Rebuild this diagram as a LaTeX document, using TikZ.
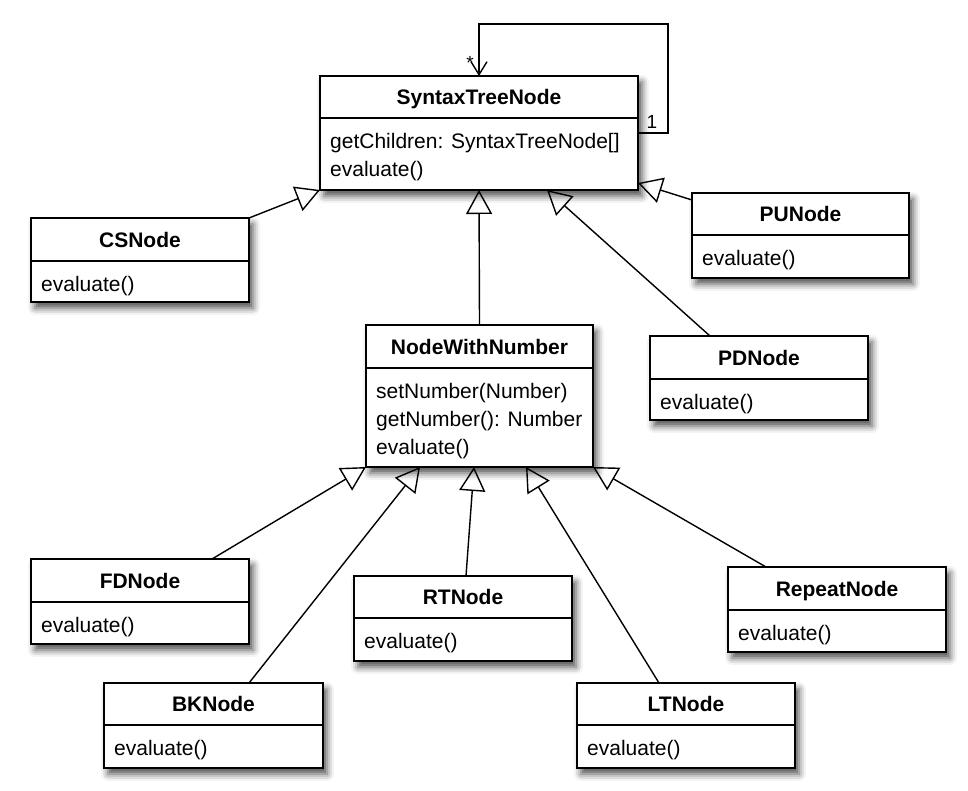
\documentclass[tikz,border=0pt]{standalone}
\usepackage{fontspec}
\setmainfont{Liberation Sans}
\usetikzlibrary{arrows.meta,calc,shadows.blur}

\tikzset{
  classbox/.style={draw, line width=1.8pt, fill=white, inner sep=0pt, outer sep=0pt,
    blur shadow={shadow xshift=4pt, shadow yshift=-6pt, shadow blur radius=7pt, shadow opacity=70}},
  classname/.style={font=\fontsize{21}{25}\selectfont\bfseries, inner sep=0pt, anchor=base},
  classops/.style={font=\fontsize{21}{28}\selectfont, align=left, inner sep=0pt, anchor=north west},
  inherit/.style={line width=1.4pt, -{Triangle[open, length=24pt, width=26pt, line width=1.4pt]}},
  assoc/.style={line width=1.4pt, -{Straight Barb[length=13pt, width=16pt, line width=1.4pt]}},
  mult/.style={font=\fontsize{19}{20}\selectfont, inner sep=0pt},
}

% name, x, y, width, height, title height, title, operations
\newcommand{\umlclass}[8]{%
  \node[classbox, minimum width=#4pt, minimum height=#5pt, anchor=north west] (#1) at (#2,#3) {};
  \draw[line width=1.3pt] ($(#1.north west)+(0,#6)$) -- ($(#1.north east)+(0,#6)$);
  \node[classname] (#1-name) at ($(#1.north)+(0,#6/2+7.5)$) {#7};
  \node[classops] (#1-ops) at ($(#1.north west)+(10,#6+15)$) {#8};
}

\begin{document}
\begin{tikzpicture}[x=1pt, y=-1pt]
  \useasboundingbox (0,0) rectangle (968,790);

  \umlclass{STN}{320}{76}{318}{114}{42}{SyntaxTreeNode}{getChildren: SyntaxTreeNode[]\\evaluate()}
  \umlclass{CS}{31}{218}{218}{84}{43}{CSNode}{evaluate()}
  \umlclass{PU}{692}{193}{217}{85}{42}{PUNode}{evaluate()}
  \umlclass{PD}{650}{336}{218}{84}{43}{PDNode}{evaluate()}
  \umlclass{NWN}{366}{325}{227}{142}{43}{NodeWithNumber}{setNumber(Number)\\getNumber(): Number\\evaluate()}
  \umlclass{FD}{31}{559}{218}{85}{43}{FDNode}{evaluate()}
  \umlclass{BK}{104}{683}{219}{85}{42}{BKNode}{evaluate()}
  \umlclass{RT}{354}{576}{218}{85}{42}{RTNode}{evaluate()}
  \umlclass{Rep}{728}{567}{218}{85}{43}{RepeatNode}{evaluate()}
  \umlclass{LT}{577}{683}{218}{85}{42}{LTNode}{evaluate()}

  % children
  \draw[assoc] ($(STN.north east)+(0,57)$) -- ++(30,0) |- ($(STN.north)+(0,-52)$) -- (STN.north);
  \node[mult] (many) at (470,63) {*};
  \node[mult] (one) at (652,122) {1};

  % generalisations
  \draw[inherit] (CS.north east) -- (STN.south west);
  \draw[inherit] ($(PU.north west)+(0,7)$) -- ($(STN.south east)+(0,-7)$);
  \draw[inherit] (NWN.north) -- (STN.south);
  \draw[inherit] ($(PD.north west)+(60,0)$) -- ($(STN.south west)+(227,0)$);
  \draw[inherit] ($(FD.north west)+(181,0)$) -- (NWN.south west);
  \draw[inherit] ($(BK.north west)+(145,0)$) -- ($(NWN.south west)+(54,0)$);
  \draw[inherit] ($(RT.north west)+(112,0)$) -- ($(NWN.south west)+(108,0)$);
  \draw[inherit] ($(LT.north west)+(82,0)$) -- ($(NWN.south west)+(160,0)$);
  \draw[inherit] ($(Rep.north west)+(38,0)$) -- (NWN.south east);

\end{tikzpicture}
\end{document}
